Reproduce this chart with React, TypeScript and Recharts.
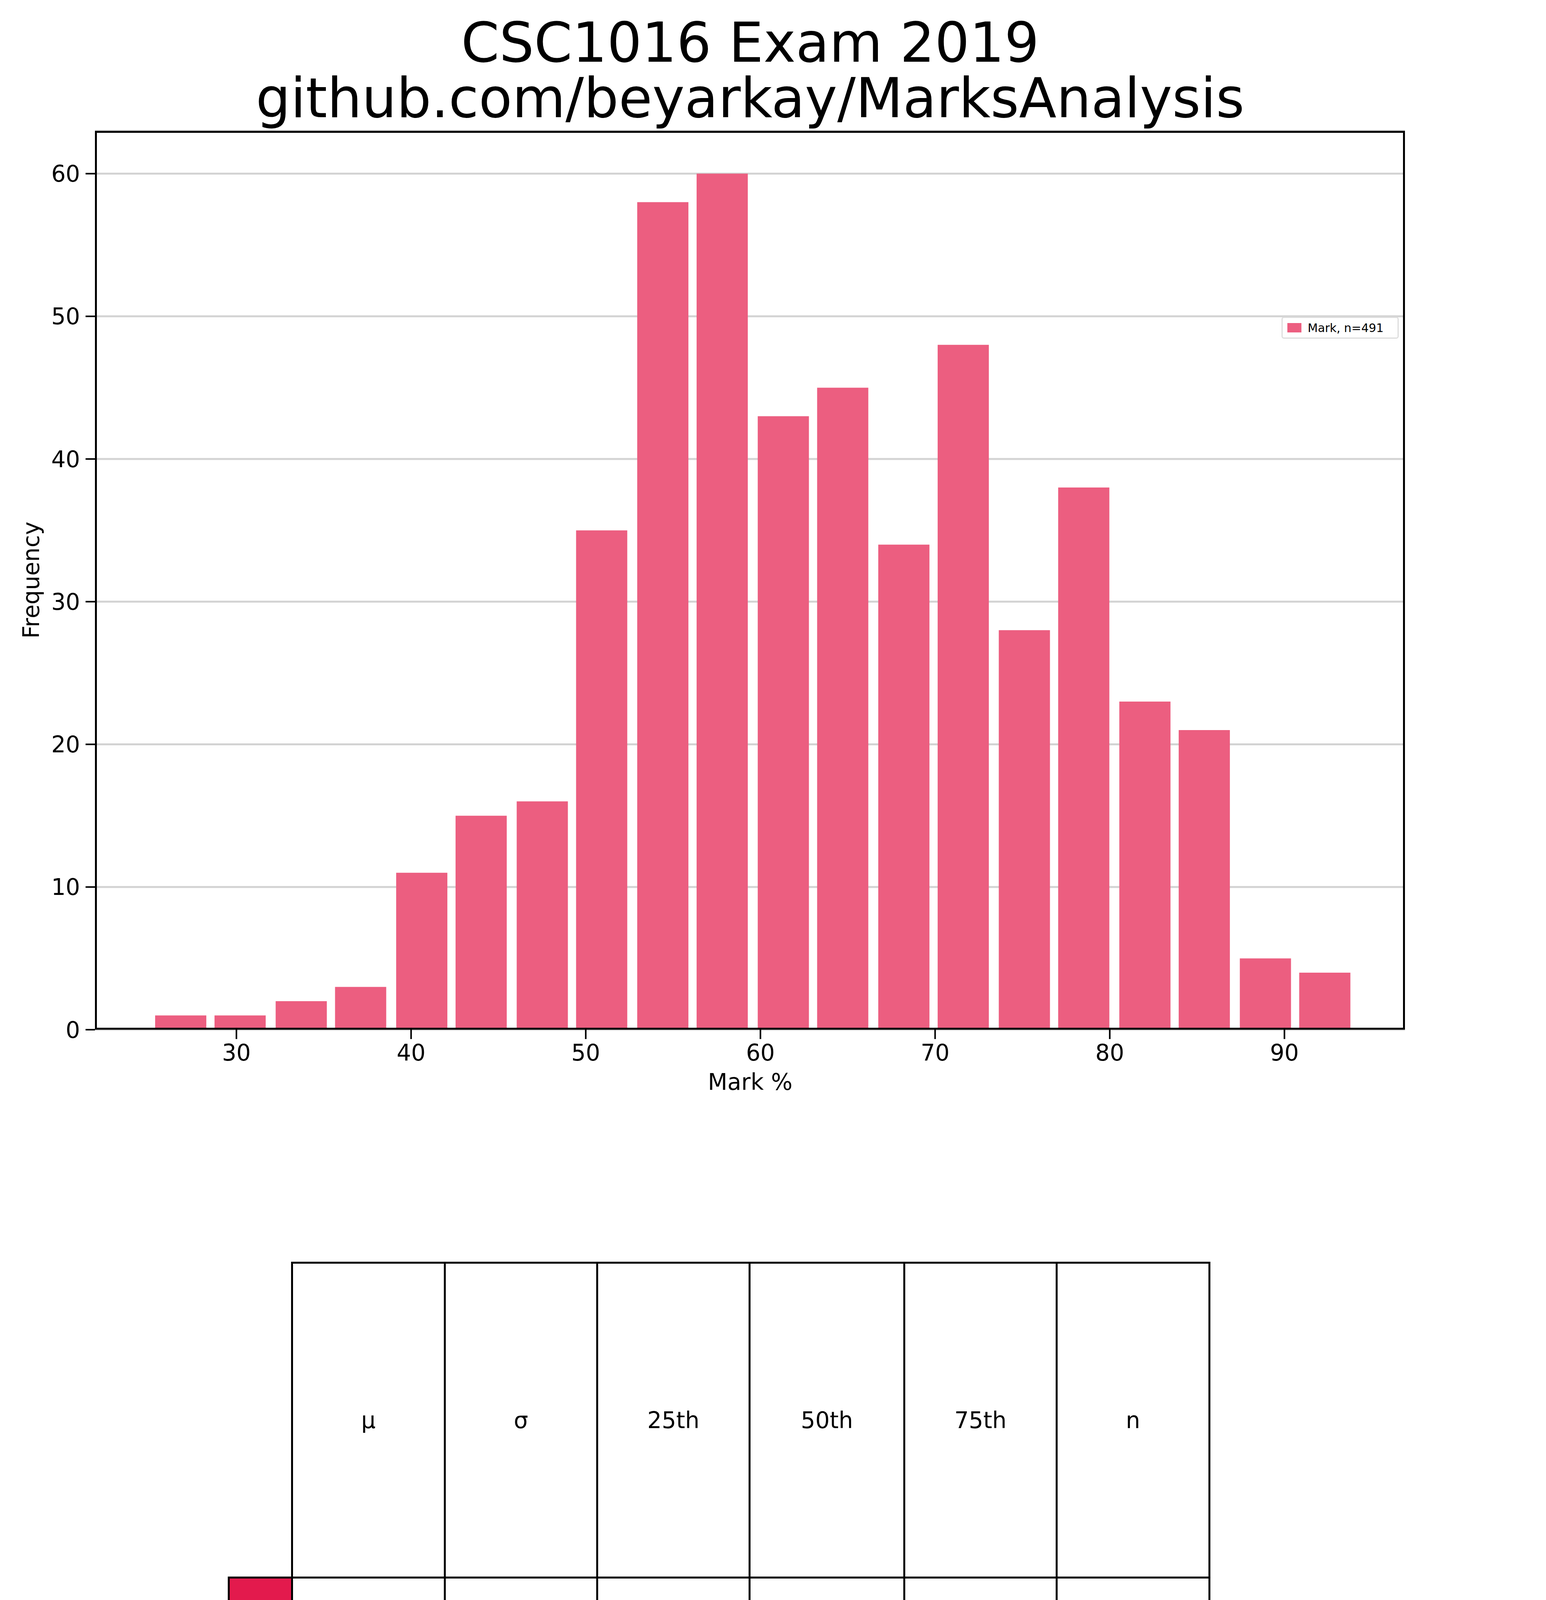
import React from 'react';
import { BarChart, Bar, LineChart, Line, XAxis, YAxis, CartesianGrid } from 'recharts';

const binCenters = [26.8, 30.2, 33.7, 37.1, 40.6, 44.0, 47.5, 50.9, 54.4, 57.8, 61.3, 64.7, 68.2, 71.6, 75.1, 78.5, 82.0, 85.4, 88.9, 92.3];
const binCounts = [1, 1, 2, 3, 11, 15, 16, 35, 58, 60, 43, 45, 34, 48, 28, 38, 23, 21, 5, 4];
const histXTicks = [30, 40, 50, 60, 70, 80, 90];
const histYTicks = [0, 10, 20, 30, 40, 50, 60];

const cumMarks = [25, 29, 33, 35, 36, 37, 38, 39, 40, 41, 42, 45, 46, 47, 48, 49, 50, 51, 52, 53, 54, 55, 56, 57, 58, 59, 60, 61, 62, 63, 64, 65, 66, 67, 68, 69, 70, 71, 72, 73, 74, 75, 76, 77, 78, 79, 80, 81, 82, 83, 84, 85, 86, 87, 89, 90, 92, 93, 94, 100];
const cumValues = [0.002, 0.004, 0.006, 0.008, 0.010, 0.012, 0.014, 0.018, 0.022, 0.027, 0.037, 0.067, 0.076, 0.088, 0.094, 0.100, 0.149, 0.157, 0.171, 0.200, 0.240, 0.265, 0.289, 0.328, 0.362, 0.412, 0.435, 0.456, 0.499, 0.521, 0.542, 0.564, 0.590, 0.607, 0.636, 0.660, 0.682, 0.721, 0.737, 0.758, 0.766, 0.794, 0.815, 0.847, 0.861, 0.880, 0.892, 0.917, 0.927, 0.939, 0.955, 0.963, 0.974, 0.982, 0.990, 0.992, 0.996, 0.998, 1.0, 1.0];
const cumXTicks = [0, 10, 20, 30, 40, 50, 60, 70, 80, 90, 100];
const cumYTicks = [0, 0.1, 0.2, 0.3, 0.4, 0.5, 0.6, 0.7, 0.8, 0.9, 1.0];

const tableHeaders = ['μ', 'σ', '25th', '50th', '75th', 'n'];
const tableValues = ['63.88', '12.32', '55.0', '63.0', '73.0', '491'];

const PINK = '#ec5e80';
const FONT = '"DejaVu Sans", sans-serif';
const tickStyle = { fontSize: 58, fill: '#000', fontFamily: FONT };

const histData = binCenters.map((x, i) => ({ x, count: binCounts[i] }));
const cumData = cumMarks.map((x, i) => ({ x, p: cumValues[i] }));

const abs = (l: number, t: number, w: number, h: number): React.CSSProperties => ({ position: 'absolute', left: l, top: t, width: w, height: h });

export default function App() {
  const colL = [745, 1136, 1526, 1916, 2312, 2702, 3093];
  return (
    <div style={{ position: 'relative', margin: -8, width: 3957, height: 7952, background: '#fff', fontFamily: FONT, overflow: 'hidden' }}>
      <svg style={{ position: 'absolute', left: 0, top: 0 }} width={3957} height={7952}>
        <text x={1920} y={158} textAnchor="middle" fontSize={140} fontFamily={FONT}>CSC1016 Exam 2019</text>
        <text x={1920} y={300} textAnchor="middle" fontSize={140} fontFamily={FONT}>github.com/beyarkay/MarksAnalysis</text>
        <text x={1920} y={2790} textAnchor="middle" fontSize={58} fontFamily={FONT}>Mark %</text>
        <text x={0} y={0} transform="translate(100,1485) rotate(-90)" textAnchor="middle" fontSize={58} fontFamily={FONT}>Frequency</text>
        <text x={1920} y={5318} textAnchor="middle" fontSize={86} fontFamily={FONT}>Cumulative Mark Frequency</text>
        <text x={1920} y={5412} textAnchor="middle" fontSize={86} fontFamily={FONT}>github.com/beyarkay/MarksAnalysis</text>
        <text x={1920} y={7900} textAnchor="middle" fontSize={58} fontFamily={FONT}>Mark %</text>
        <text x={0} y={0} transform="translate(86,6590) rotate(-90)" textAnchor="middle" fontSize={58} fontFamily={FONT}>Percentile</text>
      </svg>

      <div style={abs(0, 0, 3957, 2900)}>
        <BarChart width={3957} height={2900} data={histData} margin={{ top: 335, right: 361, left: 242, bottom: 263 }}>
          <CartesianGrid horizontal vertical={false} stroke="#d3d3d3" strokeWidth={5} />
          <XAxis dataKey="x" type="number" domain={[21.9, 96.9]} ticks={histXTicks} height={1} tickSize={24} tickMargin={14}
            tick={tickStyle} axisLine={false} tickLine={{ stroke: '#000', strokeWidth: 4 }} />
          <YAxis type="number" domain={[0, 63]} ticks={histYTicks} width={1} tickSize={24} tickMargin={14} allowDataOverflow
            tick={tickStyle} axisLine={false} tickLine={{ stroke: '#000', strokeWidth: 4 }} />
          <Bar dataKey="count" fill={PINK} barSize={131} isAnimationActive={false} />
        </BarChart>
        <div style={{ ...abs(243, 335, 3353, 2301), border: '5px solid #000', boxSizing: 'border-box', pointerEvents: 'none' }} />
        <div style={{ ...abs(3280, 811, 300, 56), border: '3px solid #ddd', borderRadius: 6, background: '#fff', boxSizing: 'border-box', display: 'flex', alignItems: 'center', paddingLeft: 12, fontSize: 30 }}>
          <span style={{ width: 36, height: 24, background: PINK, marginRight: 16 }} />Mark, n=491
        </div>
      </div>

      {/* stats table */}
      <div style={{ ...abs(583, 4036, 167, 811), background: '#e31a4d', border: '5px solid #000', boxSizing: 'border-box', fontSize: 58, display: 'flex', alignItems: 'center', paddingLeft: 14, overflow: 'visible', whiteSpace: 'nowrap' }}>Mark</div>
      {tableHeaders.map((h, i) => (
        <div key={h} style={{ ...abs(colL[i], 3230, colL[i + 1] - colL[i] + 5, 811), border: '5px solid #000', boxSizing: 'border-box', fontSize: 58, display: 'flex', alignItems: 'center', justifyContent: 'center' }}>{h}</div>
      ))}
      {tableValues.map((v, i) => (
        <div key={i} style={{ ...abs(colL[i], 4036, colL[i + 1] - colL[i] + 5, 811), border: '5px solid #000', boxSizing: 'border-box', fontSize: 58, display: 'flex', alignItems: 'center', justifyContent: 'flex-end', paddingRight: 40 }}>{v}</div>
      ))}

      <div style={abs(0, 5100, 3957, 2852)}>
        <LineChart width={3957} height={2852} data={cumData} margin={{ top: 340, right: 361, left: 242, bottom: 209 }}>
          <CartesianGrid horizontal vertical={false} stroke="#d3d3d3" strokeWidth={5} />
          <XAxis dataKey="x" type="number" domain={[0, 100]} ticks={cumXTicks} height={1} tickSize={24} tickMargin={14}
            tick={tickStyle} axisLine={false} tickLine={{ stroke: '#000', strokeWidth: 4 }} />
          <YAxis type="number" domain={[0, 1.048]} ticks={cumYTicks} width={1} tickSize={24} tickMargin={14} allowDataOverflow
            tickFormatter={(v: number) => v.toFixed(1)} tick={tickStyle} axisLine={false} tickLine={{ stroke: '#000', strokeWidth: 4 }} />
          <Line dataKey="p" type="stepAfter" stroke={PINK} strokeWidth={6} dot={false} isAnimationActive={false} />
        </LineChart>
        <div style={{ ...abs(243, 340, 3353, 2303), border: '5px solid #000', boxSizing: 'border-box', pointerEvents: 'none' }} />
        <div style={{ ...abs(3615, 820, 295, 52), border: '3px solid #ddd', borderRadius: 6, background: '#fff', boxSizing: 'border-box', display: 'flex', alignItems: 'center', paddingLeft: 10, fontSize: 28 }}>
          <span style={{ width: 28, height: 22, border: `4px solid ${PINK}`, marginRight: 14, boxSizing: 'border-box' }} />Mark, n=491
        </div>
      </div>
    </div>
  );
}
